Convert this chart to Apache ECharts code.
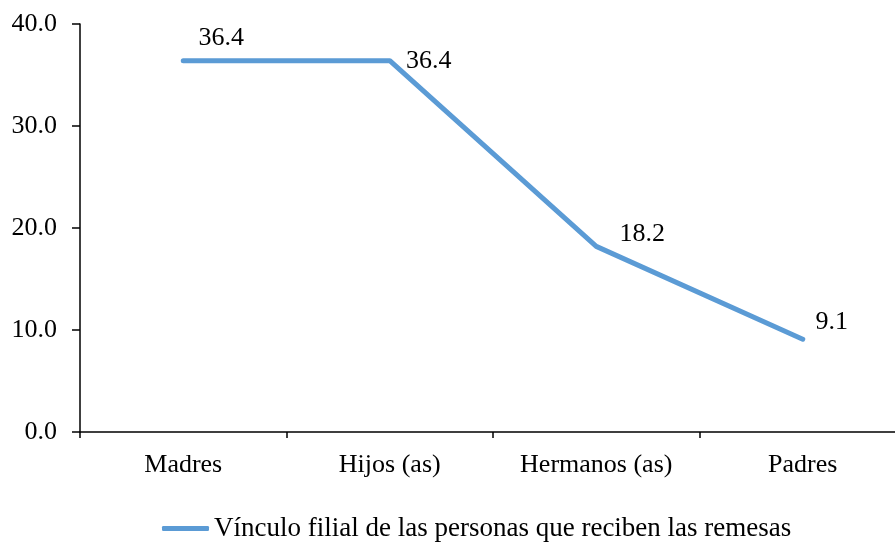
<!DOCTYPE html>
<html>
<head>
<meta charset="utf-8">
<script src="https://cdn.jsdelivr.net/npm/echarts@6/dist/echarts.min.js"></script>
<style>
  html, body { margin: 0; padding: 0; background: #fff; overflow: hidden; }
  #chart { width: 906px; height: 542px; }
</style>
</head>
<body>
<div id="chart"></div>
<script>
const categories = ['Madres', 'Hijos (as)', 'Hermanos (as)', 'Padres']
const values = [36.4, 36.4, 18.2, 9.1]
const seriesName = 'Vínculo filial de las personas que reciben las remesas'
// offsets de etiquetas como en el original
const labelOffsets = [[38, -23], [39, 0], [46, -12], [29, -17]]

const font = '"Liberation Serif", "Times New Roman", serif'
const mychart = echarts.init(document.getElementById('chart'))
mychart.setOption({
  animation: false,
  textStyle: { fontFamily: font },
  grid: { left: 80, right: 0, top: 24, bottom: 110 },
  legend: {
    bottom: -5,
    left: 157,
    itemWidth: 47,
    itemHeight: 5,
    itemGap: 0,
    icon: 'roundRect',
    itemStyle: { color: '#5B9BD5' },
    textStyle: { fontFamily: font, fontSize: 27, color: '#000' },
    data: [seriesName],
  },
  xAxis: {
    type: 'category',
    data: categories,
    boundaryGap: true,
    axisLine: { show: true, lineStyle: { color: '#000', width: 1.5 } },
    axisTick: { show: true, length: 6, lineStyle: { color: '#000', width: 1.5 } },
    axisLabel: { fontFamily: font, fontSize: 26, color: '#000', margin: 20 },
    splitLine: { show: false },
  },
  yAxis: {
    type: 'value',
    min: 0,
    max: 40,
    interval: 10,
    axisLine: { show: true, lineStyle: { color: '#000', width: 1.5 } },
    axisTick: { show: true, length: 8, lineStyle: { color: '#000', width: 1.5 } },
    axisLabel: {
      fontFamily: font, fontSize: 26, color: '#000', margin: 23,
      formatter: v => v.toFixed(1),
    },
    splitLine: { show: false },
  },
  series: [
    {
      name: seriesName,
      type: 'line',
      data: values.map((v, i) => ({
        value: v,
        label: { offset: labelOffsets[i] },
      })),
      symbol: 'circle',
      symbolSize: 1,
      showSymbol: true,
      lineStyle: { color: '#5B9BD5', width: 5, cap: 'round', join: 'round' },
      itemStyle: { color: 'rgba(0,0,0,0)' },
      label: {
        show: true,
        position: 'inside',
        fontFamily: font,
        fontSize: 26,
        color: '#000',
        formatter: p => p.value.toFixed(1),
      },
    },
  ],
})
</script>
</body>
</html>
